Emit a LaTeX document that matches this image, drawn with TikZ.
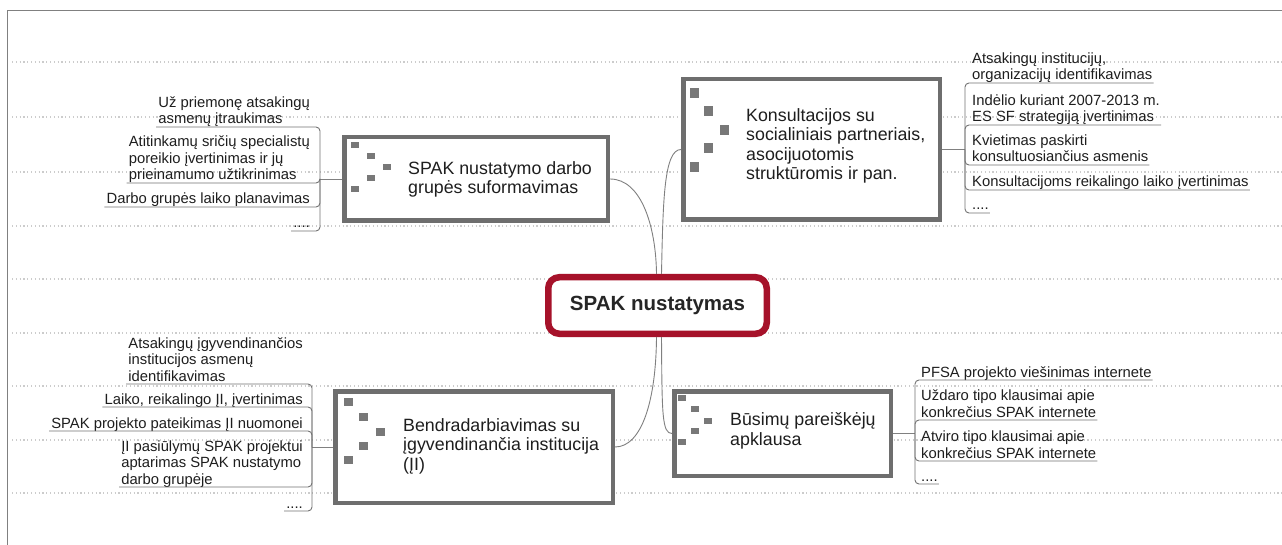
\documentclass[tikz,border=0pt]{standalone}
\usepackage{fontspec}
\setmainfont{Liberation Sans}
\definecolor{rootred}{RGB}{166,18,42}
\definecolor{boxgray}{RGB}{110,110,110}
\definecolor{sqgray}{RGB}{120,120,120}
\definecolor{txt}{RGB}{30,30,30}
\definecolor{linegray}{RGB}{115,115,115}
\newcommand{\ml}[1]{\begin{tabular}[b]{@{}l@{}}#1\end{tabular}}
\begin{document}
\begin{tikzpicture}[x=1pt,y=-1pt,
  frameline/.style={draw=black!50,line width=0.9pt},
  griddots/.style={draw=black!20,line width=1.3pt,dash pattern=on 1.2pt off 2.6pt},
  rootbox/.style={draw=rootred,line width=6.5pt,fill=white,rounded corners=11pt,minimum width=218.5pt,minimum height=56.5pt,inner sep=0pt,text=black!85,font=\fontsize{20.5}{24}\selectfont\bfseries},
  topicbox/.style={draw=boxgray,line width=4.5pt,fill=white,inner sep=0pt},
  topictext/.style={anchor=base west,inner sep=0pt,text=txt,font=\fontsize{17.8}{19.5}\selectfont},
  sq/.style={fill=sqgray,minimum width=8pt,minimum height=6.5pt,inner sep=0pt},
  subR/.style={anchor=base west,inner sep=0pt,text=txt,font=\fontsize{14.8}{16.5}\selectfont},
  subL/.style={anchor=base east,inner sep=0pt,text=txt,font=\fontsize{14.8}{16.5}\selectfont},
  conn/.style={draw=black!50,line width=0.9pt},
  uline/.style={draw=linegray,line width=0.9pt,rounded corners=4pt},
]
\useasboundingbox (0,0) rectangle (1282,545);
\fill[white] (0,0) rectangle (1282,545);
% background dotted rows
\foreach \yy in {62,117,172,226,279,333,386,440,493}
  \draw[griddots] (12,\yy) -- (1282,\yy);
% frame
\draw[frameline] (7,545) -- (7,10) -- (1282,10);

% coordinates for connectors
\coordinate (tlb) at (320,179);
\coordinate (trb) at (965,149.5);
\coordinate (blb) at (312,447);
\coordinate (brb) at (915,433.5);

% topic boxes
\node[topicbox,minimum width=263.5pt,minimum height=83.5pt] (tl) at (476,179) {};
\node[topicbox,minimum width=256.5pt,minimum height=140.5pt] (tr) at (811.5,149.5) {};
\node[topicbox,minimum width=277.5pt,minimum height=111.5pt] (bl) at (474,447) {};
\node[topicbox,minimum width=216.5pt,minimum height=84.5pt] (br) at (782.5,433.5) {};

% root
\node[rootbox] (root) at (657.5,305.5) {SPAK nustatymas};

% connectors root -> topics
\draw[conn] ([xshift=-1pt]root.north) .. controls (656,228) and (642,179) .. (tl.east);
\draw[conn] ([xshift=4pt]root.north) .. controls (663,200) and (664,149.5) .. (tr.west);
\draw[conn] ([xshift=-1pt]root.south) .. controls (656,400) and (642,447) .. (bl.east);
\draw[conn] ([xshift=4pt]root.south) .. controls (662,415) and (662,433.5) .. (br.west);

% squares
\foreach \xx/\yy [count=\i] in {355/145,371/156,387/167,371/178,355/189}
  \node[sq,minimum width=8pt,minimum height=6pt] (tlsq\i) at (\xx,\yy) {};
\foreach \xx/\yy [count=\i] in {694/93,708/111,724/130,708/148,694/167}
  \node[sq,minimum width=9pt,minimum height=10.5pt] (trsq\i) at (\xx,\yy) {};
\foreach \xx/\yy [count=\i] in {348/402,363/417,380/432,363/446,348/460}
  \node[sq,minimum width=9pt,minimum height=8pt] (blsq\i) at (\xx,\yy) {};
\foreach \xx/\yy [count=\i] in {682/398,695/409,708/421,695/431,682/442}
  \node[sq,minimum width=8pt,minimum height=6.5pt] (brsq\i) at (\xx,\yy) {};

% topic texts
\node[topictext] (tltext) at (408,194) {\ml{SPAK nustatymo darbo\\grupės suformavimas}};
\node[topictext] (trtext) at (746,180) {\ml{Konsultacijos su\\socialiniais partneriais,\\asocijuotomis\\struktūromis ir pan.}};
\node[topictext] (bltext) at (403,470) {\ml{Bendradarbiavimas su\\įgyvendinančia institucija\\(ĮI)}};
\node[topictext] (brtext) at (730,445) {\ml{Būsimų pareiškėjų\\apklausa}};

% subtopics: top left
\node[subL] (l1) at (310,124) {\ml{Už priemonę atsakingų\\asmenų įtraukimas}};
\node[subL] (l2) at (310,180) {\ml{Atitinkamų sričių specialistų\\poreikio įvertinimas ir jų\\prieinamumo užtikrinimas}};
\node[subL] (l3) at (310,204) {Darbo grupės laiko planavimas};
\node[subL] (l4) at (310,228) {....};
% subtopics: top right
\node[subR] (t1) at (972,80) {\ml{Atsakingų institucijų,\\organizacijų identifikavimas}};
\node[subR] (t2) at (972,122) {\ml{Indėlio kuriant 2007-2013 m.\\ES SF strategiją įvertinimas}};
\node[subR] (t3) at (972,162) {\ml{Kvietimas paskirti\\konsultuosiančius asmenis}};
\node[subR] (t4) at (972,187) {Konsultacijoms reikalingo laiko įvertinimas};
\node[subR] (t5) at (972,210) {....};
% subtopics: bottom left
\node[subL] (b1) at (303,381) {\ml{Atsakingų įgyvendinančios\\institucijos asmenų\\identifikavimas}};
\node[subL] (b2) at (303,404) {Laiko, reikalingo ĮI, įvertinimas};
\node[subL] (b3) at (303,428) {SPAK projekto pateikimas ĮI nuomonei};
\node[subL] (b4) at (303,484) {\ml{ĮI pasiūlymų SPAK projektui\\aptarimas SPAK nustatymo\\darbo grupėje}};
\node[subL] (b5) at (303,508) {....};
% subtopics: bottom right
\node[subR] (r1) at (921,377) {PFSA projekto viešinimas internete};
\node[subR] (r2) at (921,417) {\ml{Uždaro tipo klausimai apie\\konkrečius SPAK internete}};
\node[subR] (r3) at (921,458) {\ml{Atviro tipo klausimai apie\\konkrečius SPAK internete}};
\node[subR] (r4) at (921,481) {....};

% stems
\draw[conn] (tl.west) -- (tlb);
\draw[conn] (tr.east) -- (trb);
\draw[conn] (bl.west) -- (blb);
\draw[conn] (br.east) -- (brb);

% underlines with elbows
\foreach \n in {l1,l2,l3,l4}
  \draw[uline] (tlb) |- ([yshift=-3pt,xshift=-2pt]\n.base west);
\foreach \n in {t1,t2,t3,t4,t5}
  \draw[uline] (trb) |- ([yshift=-3pt,xshift=1pt]\n.base east);
\foreach \n in {b1,b2,b3,b4,b5}
  \draw[uline] (blb) |- ([yshift=-3pt,xshift=-2pt]\n.base west);
\foreach \n in {r1,r2,r3,r4}
  \draw[uline] (brb) |- ([yshift=-3pt,xshift=1pt]\n.base east);
\end{tikzpicture}
\end{document}
